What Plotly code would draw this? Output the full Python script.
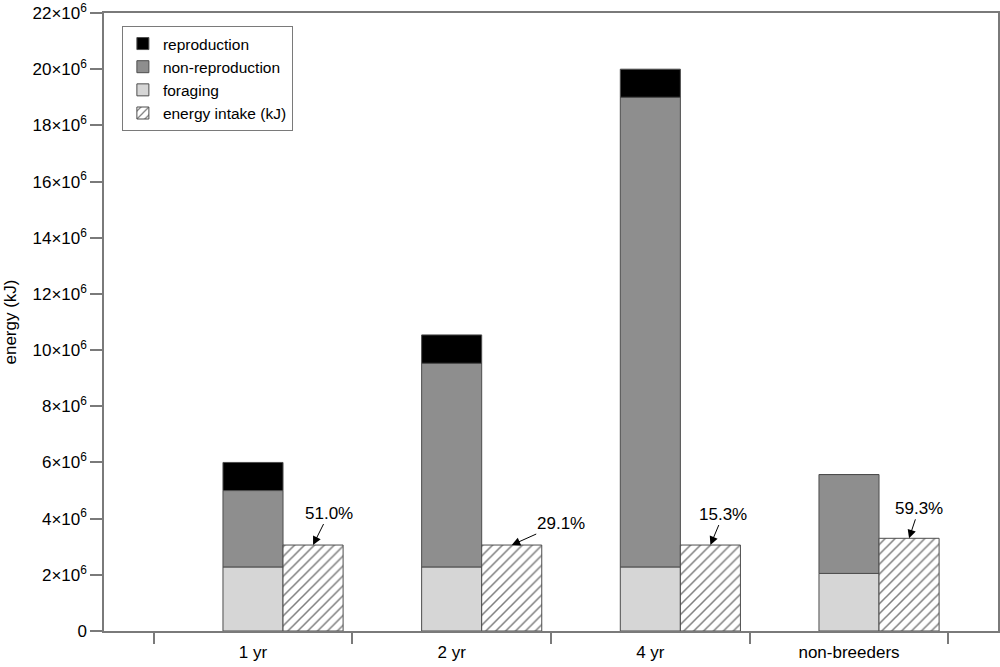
import plotly.graph_objects as go

# ---- data (in kJ) ----
categories = ["1 yr", "2 yr", "4 yr", "non-breeders"]
foraging = [2.28e6, 2.28e6, 2.28e6, 2.05e6]
non_reproduction = [2.72e6, 7.25e6, 16.72e6, 3.52e6]
reproduction = [1.00e6, 1.01e6, 1.00e6, 0.0]
energy_intake = [3.06e6, 3.06e6, 3.06e6, 3.30e6]
pct_labels = ["51.0%", "29.1%", "15.3%", "59.3%"]
y_tick_vals = [i * 2e6 for i in range(12)]
y_tick_text = ["0"] + [f"{i*2}×10<sup>6</sup>" for i in range(1, 12)]

FONT = "Liberation Sans, Arial, Helvetica, sans-serif"
AXIS_GRAY = "#7a7a7a"
OUTLINE = "#4d4d4d"

bargap = 0.093
slot = (1 - bargap) / 3.0  # three slots per group, first one empty

base_nonrep = foraging
base_repro = [f + n for f, n in zip(foraging, non_reproduction)]

fig = go.Figure()
# empty first slot (keeps the reference's group layout)
fig.add_trace(go.Bar(x=categories, y=[0] * 4, offsetgroup="a", showlegend=False,
                     hoverinfo="skip", marker=dict(color="rgba(0,0,0,0)", line=dict(width=0))))
fig.add_trace(go.Bar(x=categories, y=foraging, offsetgroup="b", name="foraging",
                     legendrank=3,
                     marker=dict(color="#d6d6d6", line=dict(color=OUTLINE, width=1))))
fig.add_trace(go.Bar(x=categories, y=non_reproduction, base=base_nonrep, offsetgroup="b",
                     name="non-reproduction", legendrank=2,
                     marker=dict(color="#8e8e8e", line=dict(color=OUTLINE, width=1))))
fig.add_trace(go.Bar(x=categories, y=reproduction, base=base_repro, offsetgroup="b",
                     name="reproduction", legendrank=1,
                     marker=dict(color="#000000", line=dict(color=OUTLINE, width=1))))
fig.add_trace(go.Bar(x=categories, y=energy_intake, offsetgroup="c",
                     name="energy intake (kJ)", legendrank=4,
                     marker=dict(color="white", line=dict(color=OUTLINE, width=1),
                                 pattern=dict(shape="/", fgcolor="black", bgcolor="white",
                                              size=7, solidity=0.22))))

# annotation offsets (pixels): text centre relative to arrow tip
ann_offsets = [(16, -32), (49, -22), (13, -31), (10, -30)]
for i, (lab, val, (ax, ay)) in enumerate(zip(pct_labels, energy_intake, ann_offsets)):
    fig.add_annotation(x=i + slot, y=val, xref="x", yref="y", text=lab,
                       showarrow=True, arrowhead=2, arrowsize=1.7, arrowwidth=1,
                       arrowcolor="black", ax=ax, ay=ay,
                       font=dict(family=FONT, size=17, color="black"))

fig.update_layout(
    width=1000, height=667,
    margin=dict(l=104, r=2, t=13, b=36),
    paper_bgcolor="white", plot_bgcolor="white",
    barmode="group", bargap=bargap, bargroupgap=0,
    font=dict(family=FONT, size=17, color="black"),
    showlegend=True,
    legend=dict(x=0.02, y=0.979, xanchor="left", yanchor="top",
                bordercolor=AXIS_GRAY, borderwidth=1, bgcolor="white",
                font=dict(family=FONT, size=15.5), tracegroupgap=0),
)
fig.update_xaxes(type="category", range=[-0.75, 3.75], tickson="boundaries",
                 ticks="outside", ticklen=11, tickcolor=AXIS_GRAY, tickwidth=1.5,
                 showline=True, linecolor=AXIS_GRAY, linewidth=1.5, mirror=True,
                 showgrid=False, zeroline=False, tickfont=dict(size=17),
                 automargin=False, ticklabelstandoff=5)
fig.update_yaxes(range=[0, 22e6], tickvals=y_tick_vals, ticktext=y_tick_text,
                 ticks="outside", ticklen=12, tickcolor=AXIS_GRAY, tickwidth=1.5,
                 showline=True, linecolor=AXIS_GRAY, linewidth=1.5, mirror=True,
                 showgrid=False, zeroline=False, tickfont=dict(size=17),
                 automargin=False,
                 title=dict(text="energy (kJ)", font=dict(size=17), standoff=12))

fig.write_html("out.html", config={"displayModeBar": False},
               post_script="document.body.style.margin='0';document.body.style.padding='0';")
